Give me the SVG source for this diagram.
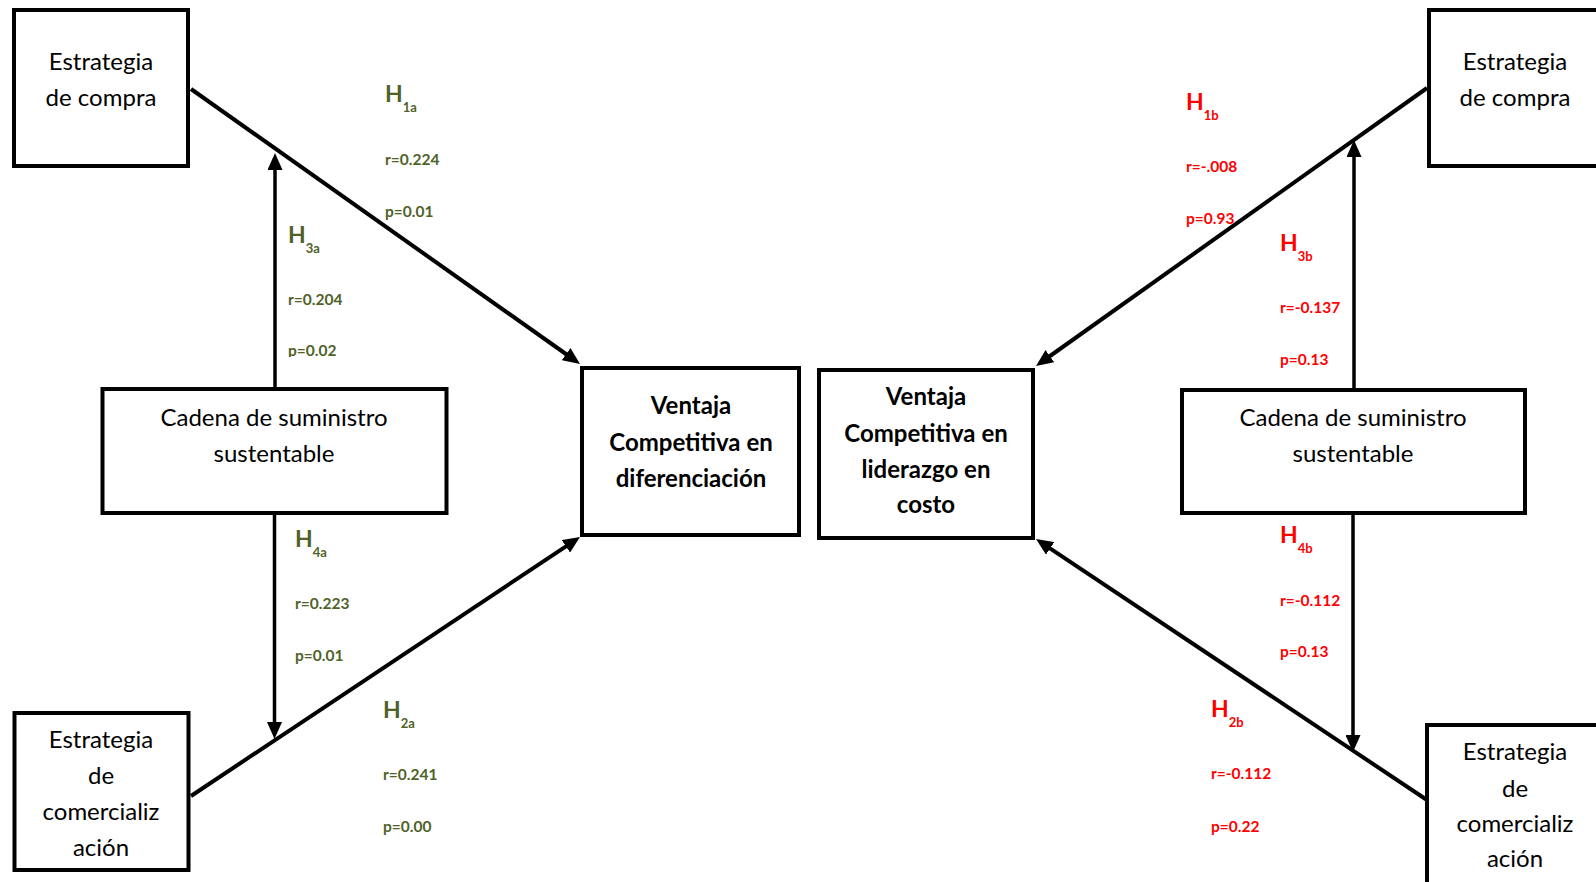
<svg xmlns="http://www.w3.org/2000/svg" width="1596" height="882" viewBox="0 0 1596 882">
  <style>
    .box { fill: #ffffff; stroke: #000000; stroke-width: 4; }
    .lbl { font-family: Lato, "Liberation Sans", sans-serif; font-size: 24px; fill: #000000; text-anchor: middle; }
    .lblb { font-family: Lato, "Liberation Sans", sans-serif; font-size: 24px; font-weight: bold; fill: #000000; text-anchor: middle; }
    .edge { stroke: #000000; stroke-width: 4; fill: none; marker-end: url(#arrow); }
    .vedge { stroke: #000000; stroke-width: 3.5; fill: none; marker-end: url(#arrow); }
    .h { font-family: Lato, "Liberation Sans", sans-serif; font-size: 23px; font-weight: bold; }
    .sub { font-size: 13px; }
    .st { font-family: Lato, "Liberation Sans", sans-serif; font-size: 15.5px; font-weight: bold; }
    .green { fill: #4f6228; }
    .red { fill: #ff0000; }
  </style>
  <defs>
    <marker id="arrow" markerUnits="userSpaceOnUse" viewBox="0 0 17 15" markerWidth="17" markerHeight="15" refX="11" refY="7.5" orient="auto">
      <path d="M0,0 L17,7.5 L0,15 z" fill="#000000"/>
    </marker>
    <clipPath id="clipH3a">
      <rect x="270" y="320" width="120" height="37"/>
    </clipPath>
  </defs>

  <rect width="1596" height="882" fill="#ffffff"/>

  <!-- connectors -->
  <g id="connectors">
    <line class="edge" x1="191" y1="89" x2="575.1" y2="360.5"/>
    <line class="edge" x1="191" y1="796" x2="575" y2="540.3"/>
    <line class="vedge" x1="275" y1="388" x2="275" y2="159"/>
    <line class="vedge" x1="274.5" y1="515" x2="274.5" y2="733"/>
    <line class="edge" x1="1427" y1="88" x2="1040.9" y2="362.5"/>
    <line class="edge" x1="1427" y1="800" x2="1041" y2="542.3"/>
    <line class="vedge" x1="1354" y1="388" x2="1354" y2="146"/>
    <line class="vedge" x1="1353" y1="514" x2="1353" y2="746"/>
  </g>

  <!-- left side nodes -->
  <g id="compra-left">
    <rect class="box" x="14" y="10" width="174" height="156"/>
    <text class="lbl" x="101" y="70">Estrategia</text>
    <text class="lbl" x="101" y="106">de compra</text>
  </g>
  <g id="cadena-left">
    <rect class="box" x="102.5" y="389" width="344" height="124"/>
    <text class="lbl" x="274" y="426">Cadena de suministro</text>
    <text class="lbl" x="274" y="462">sustentable</text>
  </g>
  <g id="comercializacion-left">
    <rect class="box" x="14.5" y="713" width="174" height="157"/>
    <text class="lbl" x="101" y="748">Estrategia</text>
    <text class="lbl" x="101" y="784">de</text>
    <text class="lbl" x="101" y="820">comercializ</text>
    <text class="lbl" x="101" y="856">ación</text>
  </g>
  <g id="ventaja-diferenciacion">
    <rect class="box" x="582" y="368" width="217" height="167"/>
    <text class="lblb" x="691" y="414">Ventaja</text>
    <text class="lblb" x="691" y="451">Competitiva en</text>
    <text class="lblb" x="691" y="487">diferenciación</text>
  </g>

  <!-- right side nodes -->
  <g id="ventaja-costo">
    <rect class="box" x="819" y="370" width="214" height="168"/>
    <text class="lblb" x="926" y="405">Ventaja</text>
    <text class="lblb" x="926" y="442">Competitiva en</text>
    <text class="lblb" x="926" y="478">liderazgo en</text>
    <text class="lblb" x="926" y="513">costo</text>
  </g>
  <g id="compra-right">
    <rect class="box" x="1429" y="10" width="200" height="156"/>
    <text class="lbl" x="1515" y="70">Estrategia</text>
    <text class="lbl" x="1515" y="106">de compra</text>
  </g>
  <g id="cadena-right">
    <rect class="box" x="1182" y="390" width="343" height="123"/>
    <text class="lbl" x="1353" y="426">Cadena de suministro</text>
    <text class="lbl" x="1353" y="462">sustentable</text>
  </g>
  <g id="comercializacion-right">
    <rect class="box" x="1427" y="725" width="200" height="170"/>
    <text class="lbl" x="1515" y="760">Estrategia</text>
    <text class="lbl" x="1515" y="797">de</text>
    <text class="lbl" x="1515" y="832">comercializ</text>
    <text class="lbl" x="1515" y="867">ación</text>
  </g>

  <!-- hypothesis labels: differentiation side -->
  <g id="labels-a" class="green">
    <text class="h" x="385" y="102">H<tspan class="sub" dy="10">1a</tspan></text>
    <text class="st" x="385" y="165">r=0.224</text>
    <text class="st" x="385" y="217">p=0.01</text>

    <text class="h" x="288" y="243">H<tspan class="sub" dy="10">3a</tspan></text>
    <text class="st" x="288" y="305">r=0.204</text>
    <text class="st" x="288" y="356" clip-path="url(#clipH3a)">p=0.02</text>

    <text class="h" x="295" y="547">H<tspan class="sub" dy="10">4a</tspan></text>
    <text class="st" x="295" y="609">r=0.223</text>
    <text class="st" x="295" y="661">p=0.01</text>

    <text class="h" x="383" y="718">H<tspan class="sub" dy="10">2a</tspan></text>
    <text class="st" x="383" y="780">r=0.241</text>
    <text class="st" x="383" y="832">p=0.00</text>
  </g>

  <!-- hypothesis labels: cost side -->
  <g id="labels-b" class="red">
    <text class="h" x="1186" y="110">H<tspan class="sub" dy="10">1b</tspan></text>
    <text class="st" x="1186" y="172">r=-.008</text>
    <text class="st" x="1186" y="224">p=0.93</text>

    <text class="h" x="1280" y="251">H<tspan class="sub" dy="10">3b</tspan></text>
    <text class="st" x="1280" y="313">r=-0.137</text>
    <text class="st" x="1280" y="365">p=0.13</text>

    <text class="h" x="1280" y="543">H<tspan class="sub" dy="10">4b</tspan></text>
    <text class="st" x="1280" y="606">r=-0.112</text>
    <text class="st" x="1280" y="657">p=0.13</text>

    <text class="h" x="1211" y="717">H<tspan class="sub" dy="10">2b</tspan></text>
    <text class="st" x="1211" y="779">r=-0.112</text>
    <text class="st" x="1211" y="832">p=0.22</text>
  </g>
</svg>
